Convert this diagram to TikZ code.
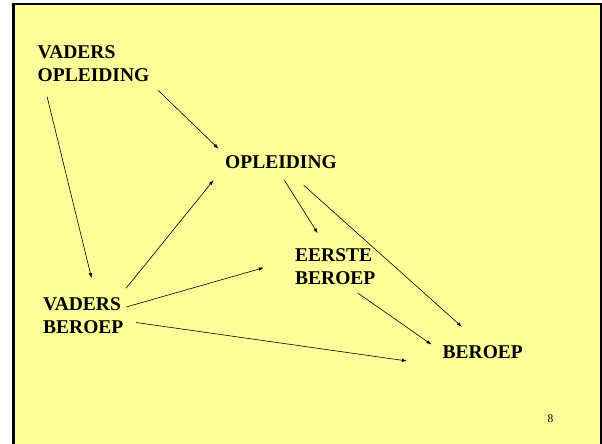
\documentclass[tikz,border=0pt]{standalone}
\usepackage{fontspec}
\setmainfont{Liberation Serif}
\usetikzlibrary{arrows.meta}

\definecolor{geel}{HTML}{FFFF99}

\tikzset{
  blok/.style={anchor=north west, inner sep=0pt, align=left,
    font=\fontsize{19.5}{23}\selectfont\bfseries},
  pijl/.style={line width=0.6pt, -{Latex[length=5pt,width=3.5pt]}}
}

\begin{document}
\begin{tikzpicture}[x=1pt, y=-1pt]
  \useasboundingbox (0,0) rectangle (602,444);
  \clip (0,0) rectangle (602,444);

  % dia
  \fill[white] (0,0) rectangle (602,444);
  \draw[line width=2.2pt, fill=geel] (13.5,4.3) rectangle (601.5,470);

  % begrippen
  \node[blok] (vaderopl) at (37.5,45.5) {VADERS\\OPLEIDING};
  \node[blok] (opleiding) at (225,155) {OPLEIDING};
  \node[blok] (eersteberoep) at (295,248.5) {EERSTE\\BEROEP};
  \node[blok] (vaderberoep) at (43,297.5) {VADERS\\BEROEP};
  \node[blok] (beroep) at (442.5,345.5) {BEROEP};

  % pijlen
  \draw[pijl, shorten <=12pt, shorten >=9pt] (vaderopl.south east) -- (opleiding.north west);
  \draw[pijl, shorten <=15pt, shorten >=20pt] ([xshift=6pt]vaderopl.south west) -- ([xshift=13pt]vaderberoep.north);
  \draw[pijl, shorten <=12pt, shorten >=15pt] ([xshift=-5pt]vaderberoep.north east) -- ([xshift=-2pt]opleiding.south west);
  \draw[pijl, shorten <=3pt, shorten >=32.5pt] ([yshift=8pt]vaderberoep.east) -- ([yshift=8pt]eersteberoep.west);
  \draw[pijl, shorten <=12.5pt, shorten >=36pt] ([yshift=-5pt]vaderberoep.east) -- ([yshift=-7pt]beroep.south west);
  \draw[pijl, shorten <=13.5pt, shorten >=18pt] ([xshift=-4pt]opleiding.south) -- ([xshift=-8pt]eersteberoep.north);
  \draw[pijl, shorten <=25pt, shorten >=28pt] ([xshift=4pt]opleiding.south) -- (beroep.north);
  \draw[pijl, shorten <=14pt, shorten >=13.5pt] ([xshift=11pt]eersteberoep.south) -- (beroep.west);

  % paginanummer
  \node[anchor=base west, inner sep=0pt, font=\fontsize{11.5}{13}\selectfont] (paginanr) at (547.5,422) {8};
\end{tikzpicture}
\end{document}
